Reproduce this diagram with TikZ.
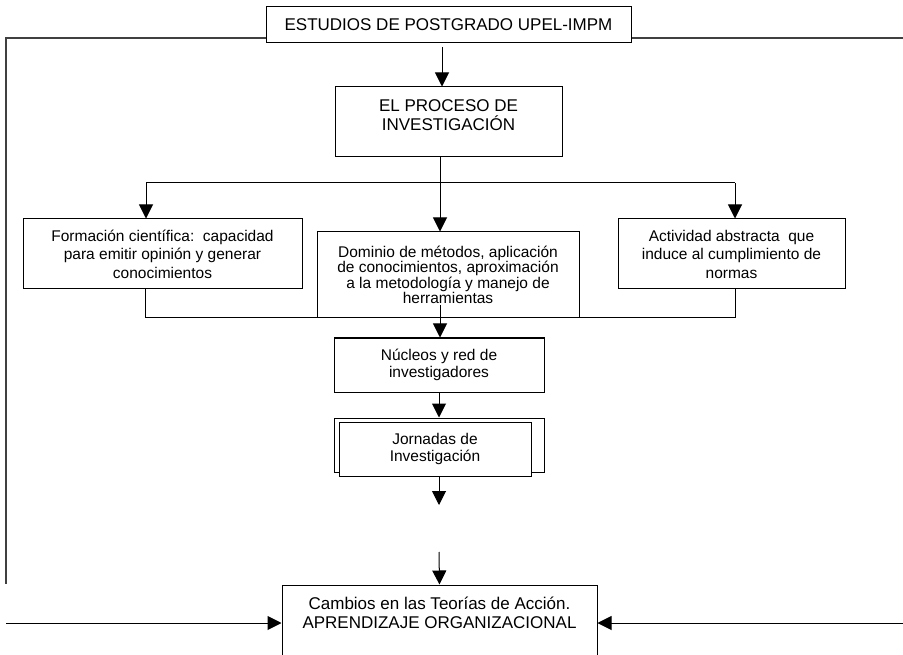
\documentclass[tikz,border=0pt]{standalone}
\usepackage{fontspec}
\setmainfont{Liberation Sans}
\usetikzlibrary{arrows.meta,positioning}

\begin{document}
\begin{tikzpicture}[x=1pt, y=-1pt, line width=1pt,
                    box/.style = {draw, fill=white, inner sep=0pt, align=center},
                    big/.style = {font=\fontsize{17}{19}\selectfont},
                    small/.style = {font=\fontsize{15.5}{18.5}\selectfont},
                    arr/.style = {-{Triangle[width=14pt,length=14pt]}},
                    frame/.style = {draw=black!75, line width=1.5pt}]
\useasboundingbox (0,0) rectangle (903,655);
\clip (0,0) rectangle (903,655);
    \node[box, big, minimum width=365pt, minimum height=36pt] (est) at (448.5,25) {ESTUDIOS DE POSTGRADO UPEL-IMPM};
\node[box, minimum width=227pt, minimum height=70pt] (proc) at (448.5,122) {};
\node[big, align=center] (proct) at (448.5,115.5) {EL PROCESO DE\\INVESTIGACIÓN};
\node[box, small, minimum width=279pt, minimum height=70pt] (form) at (162.5,254) {Formación científica:\ \ capacidad\\para emitir opinión y generar\\conocimientos};
\node[box, font=\fontsize{15.5}{15.5}\selectfont, minimum width=262pt, minimum height=86pt] (dom) at (448,275) {Dominio de métodos, aplicación\\de conocimientos, aproximación\\a la metodología y manejo de\\herramientas};
\node[box, small, minimum width=227pt, minimum height=70pt] (act) at (731.5,254) {Actividad abstracta\ \ que\\induce al cumplimiento de\\normas};
\node[box, font=\fontsize{15.5}{17}\selectfont, minimum width=210pt, minimum height=54pt] (nuc) at (439,365) {Núcleos y red de\\investigadores};
\node[box, minimum width=210pt, minimum height=54pt] (jorb) at (439,445) {};
\node[box, font=\fontsize{15.5}{16.5}\selectfont, minimum width=192pt, minimum height=54pt] (jor) at (435,449) {Jornadas de\\Investigación};
\node[box, minimum width=315pt, minimum height=115pt] (camb) at (439.5,642.5) {};
\node[big, align=center] (cambt) at (439.5,612.5) {Cambios en las Teorías de Acción.\\APRENDIZAJE ORGANIZACIONAL};
    % frame round the whole
\coordinate (fl) at (6,38);
\coordinate (flb) at (6,584);
\coordinate (fr) at (903,38);
\coordinate (bl) at (6,623);
\coordinate (br) at (903,623);
\draw[frame] (est.west |- fl) -- (fl) -- (flb);
\draw[frame] (est.east |- fr) -- (fr);
\draw[arr] (bl) -- (camb.west |- bl);
\draw[arr] (br) -- (camb.east |- br);
    % main line
\coordinate (top) at (442,47);
\coordinate (split) at (440,183);
\coordinate (sl) at (146,183);
\coordinate (sr) at (735,183);
\coordinate (jl) at (145,318);
\coordinate (jr) at (735,318);
\coordinate (dsrc) at (440,305);
\coordinate (gap1) at (439,505);
\coordinate (gap2) at (439,552);
\draw[arr] (top) -- (top |- proc.north);
\draw (split |- proc.south) -- (split);
\draw (sl) -- (sr);
\draw[arr] (sl) -- (sl |- form.north);
\draw[arr] (split) -- (split |- dom.north);
\draw[arr] (sr) -- (sr |- act.north);
\draw (jl |- form.south) -- (jl) -- (jr) -- (jr |- act.south);
\draw[arr] (dsrc) -- (dsrc |- nuc.north);
\draw[arr] (nuc.south) -- (jorb.north);
\draw[arr] (gap1 |- jor.south) -- (gap1);
\draw[arr] (gap2) -- (camb.north);
\end{tikzpicture}
\end{document}
